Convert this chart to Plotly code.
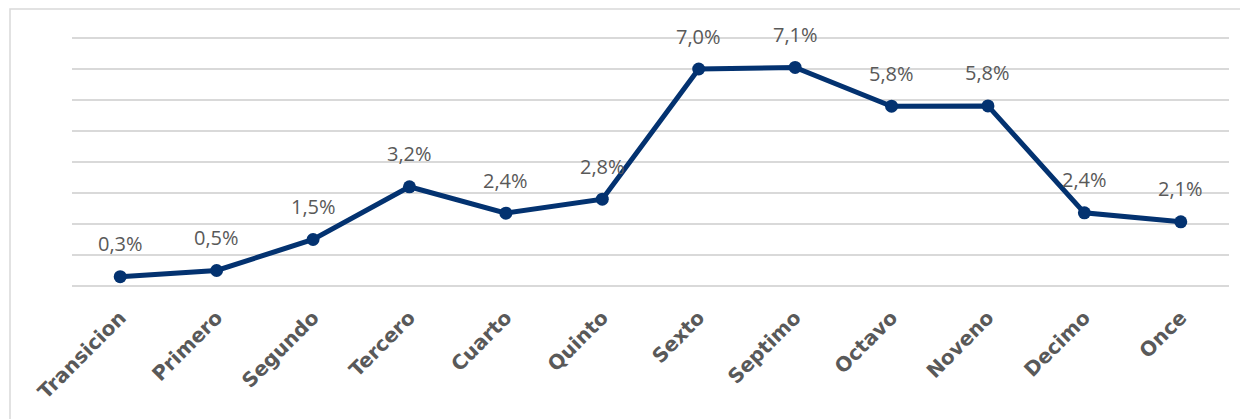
import plotly.graph_objects as go

categories = ["Transicion", "Primero", "Segundo", "Tercero", "Cuarto", "Quinto",
              "Sexto", "Septimo", "Octavo", "Noveno", "Decimo", "Once"]
values = [0.3, 0.5, 1.5, 3.2, 2.35, 2.8, 7.0, 7.05, 5.8, 5.81, 2.36, 2.07]
labels = ["0,3%", "0,5%", "1,5%", "3,2%", "2,4%", "2,8%", "7,0%", "7,1%", "5,8%", "5,8%", "2,4%", "2,1%"]

# page has an 8px body margin; figure is sized to fit inside 1248x419 window
W, H = 1240, 411
ml, mr, mt, mb = 64, 19, 24, 127
PW, PH = W - ml - mr, H - mt - mb
pad = 6 / 31.0

fig = go.Figure()
fig.add_trace(go.Scatter(
    x=categories, y=values, mode="lines+markers",
    line=dict(color="#033270", width=5),
    marker=dict(color="#033270", size=13),
    hoverinfo="skip", showlegend=False,
))
for c, v, t in zip(categories, values, labels):
    fig.add_annotation(x=c, y=v, text=t, showarrow=False, yshift=33,
                       font=dict(family="Open Sans, sans-serif", size=20, color="#595959"))

# outer frame (light gray border, cropped at right/bottom)
fx0, fy0 = 2, 1  # figure px of frame top-left
fig.add_shape(type="rect", xref="paper", yref="paper",
              x0=(fx0 - ml) / PW, x1=(W + 20 - ml) / PW,
              y0=(mt + PH - (H + 20)) / PH, y1=(mt + PH - fy0) / PH,
              line=dict(color="#d9d9d9", width=1.5), layer="below")

fig.update_layout(
    width=W, height=H,
    margin=dict(l=ml, r=mr, t=mt, b=mb, autoexpand=False),
    paper_bgcolor="white", plot_bgcolor="white",
    separators=",.",
    xaxis=dict(range=[-0.5, 11.5], showgrid=False, zeroline=False, showline=False,
               tickangle=-45, ticks="", ticklabelstandoff=9, automargin=False,
               tickfont=dict(family="DejaVu Sans, sans-serif", size=20, color="#595959", weight="bold")),
    yaxis=dict(range=[-pad, 8 + pad], dtick=1, tick0=0, showticklabels=False, showgrid=True,
               gridcolor="#d9d9d9", gridwidth=1.5, zeroline=False, showline=False, automargin=False),
)
fig.write_html("out.html")
